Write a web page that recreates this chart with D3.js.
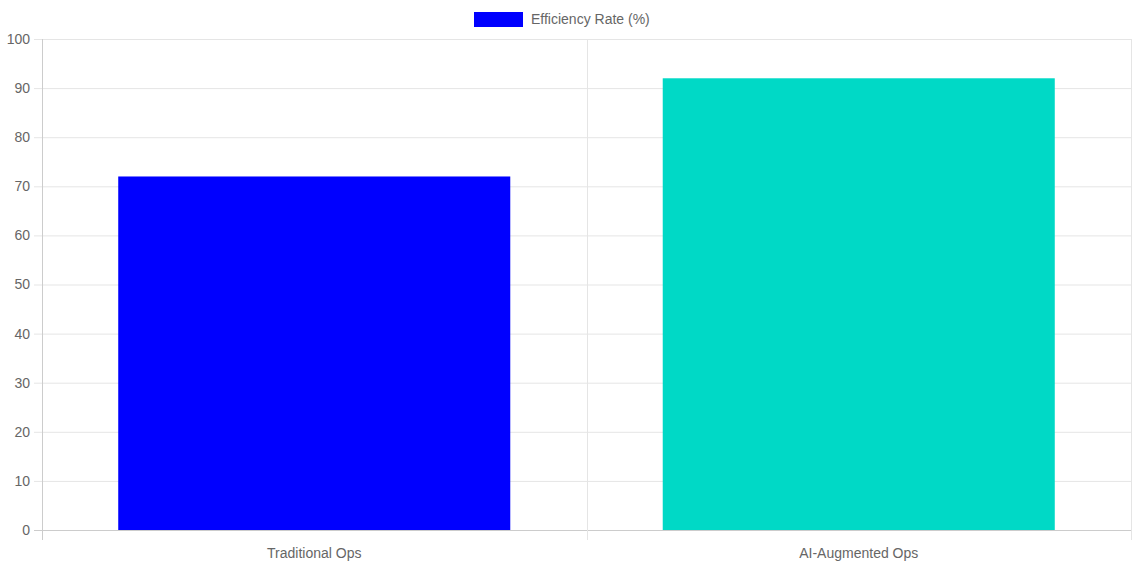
<!DOCTYPE html>
<html><head><meta charset="utf-8">
<script src="https://cdn.jsdelivr.net/npm/d3@7"></script>
<style>body{margin:0;background:#fff}svg{display:block;font-family:"Helvetica Neue",Helvetica,Arial,"Liberation Sans",sans-serif}</style>
</head><body><svg class="svg"></svg>
<script>
const categories = ["Traditional Ops", "AI-Augmented Ops"];
const values = [72, 92];
const colors = ["#0000ff", "#00d9c6"];
const seriesName = "Efficiency Rate (%)";
const yTicks = [0, 10, 20, 30, 40, 50, 60, 70, 80, 90, 100];

const width = 1132, height = 566;
const margin = {top: 39, right: 1, bottom: 36, left: 42};
const svg = d3.select(".svg").attr("width", width).attr("height", height);

const x = d3.scaleBand().domain(categories).range([margin.left, width - margin.right]).paddingInner(0).paddingOuter(0);
const y = d3.scaleLinear().domain([0, 100]).range([height - margin.bottom, margin.top]);
const bw = x.bandwidth() * 0.72;

// horizontal grid
svg.append("g").selectAll("line").data(yTicks).join("line")
  .attr("x1", margin.left - 8).attr("x2", width - margin.right)
  .attr("y1", d => y(d) + 0.5).attr("y2", d => y(d) + 0.5)
  .attr("stroke", d => d === 0 ? "#ccc" : "#e5e5e5");

// vertical grid
const vx = [margin.left, ...categories.map(c => x(c) + x.bandwidth())];
svg.append("g").selectAll("line").data(vx).join("line")
  .attr("x1", d => Math.round(d) + 0.5).attr("x2", d => Math.round(d) + 0.5)
  .attr("y1", margin.top).attr("y2", height - margin.bottom + 10)
  .attr("stroke", (d, i) => i === 0 ? "#ccc" : "#e5e5e5");

// y labels
svg.append("g").selectAll("text").data(yTicks).join("text")
  .attr("x", margin.left - 12).attr("y", d => y(d)).attr("dy", "0.35em")
  .attr("text-anchor", "end").attr("fill", "#666").style("font-size", "14px")
  .text(d => d);

// bars
svg.append("g").selectAll("rect").data(values).join("rect")
  .attr("x", (d, i) => x(categories[i]) + (x.bandwidth() - bw) / 2)
  .attr("width", bw)
  .attr("y", d => y(d)).attr("height", d => y(0) - y(d))
  .attr("fill", (d, i) => colors[i]);

// x labels
svg.append("g").selectAll("text").data(categories).join("text")
  .attr("x", d => x(d) + x.bandwidth() / 2).attr("y", height - margin.bottom + 23)
  .attr("dy", "0.35em").attr("text-anchor", "middle").attr("fill", "#666")
  .style("font-size", "14px").text(d => d);

// legend
const lg = svg.append("g");
lg.append("rect").attr("x", 474).attr("y", 12).attr("width", 49).attr("height", 15).attr("fill", colors[0]);
lg.append("text").attr("x", 531).attr("y", 19.5).attr("dy", "0.35em")
  .attr("fill", "#666").style("font-size", "14px").text(seriesName);
</script></body></html>
